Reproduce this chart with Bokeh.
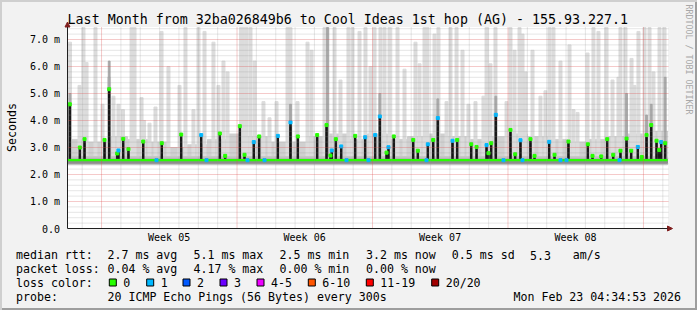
import math
from bokeh.plotting import figure
from bokeh.models import Arrow, NormalHead, Range1d
from bokeh.core.properties import value
from bokeh.embed import file_html
from bokeh.resources import INLINE

# ---------------- data (x = hours since start of the month window, y = ms) -------------
spike_h = [2.9, 15.3, 21.1, 45.9, 51.7, 61.6, 63.2, 69.1, 75.6, 93.9, 116.9, 141.0, 165.8,
           188.9, 195.5, 213.7, 219.5, 231.0, 237.7, 260.8, 276.5, 285.6, 309.6, 321.2, 326.1,
           327.7, 332.7, 339.4, 356.7, 369.1, 381.5, 387.3, 395.6, 398.0, 404.6, 428.7, 434.4,
           446.8, 453.5, 459.2, 477.4, 483.2, 500.6, 507.2, 519.6, 522.0, 525.4, 531.1, 549.3,
           555.1, 561.7, 574.1, 579.1, 597.3, 603.9, 621.2, 645.2, 651.0, 661.8, 669.2, 676.7,
           685.7, 693.2, 699.0, 707.2, 712.2, 718.0, 723.8, 730.4, 733.7, 736.2, 741.1]
spike_ms = [4.60, 3.00, 3.31, 3.28, 5.16, 2.78, 2.89, 3.32, 2.94, 3.22, 3.16, 3.48, 3.46,
            3.52, 2.69, 3.79, 2.73, 3.20, 3.41, 3.43, 3.93, 3.41, 3.46, 3.83, 2.70,
            2.89, 3.31, 3.04, 3.43, 3.38, 3.46, 4.15, 2.81, 3.01, 3.41, 3.28, 2.88,
            3.12, 3.28, 4.09, 3.25, 3.28, 3.12, 3.02, 3.09, 2.79, 3.16, 4.21, 3.65,
            2.75, 3.27, 3.31, 2.69, 3.21, 2.73, 3.22, 3.12, 2.69, 2.67, 3.31, 2.73,
            2.88, 3.33, 2.88, 3.02, 2.65, 3.46, 3.83, 3.25, 2.91, 3.20, 3.16]
spike_loss = [0, 0, 0, 0, 0, 0, 1, 0, 0, 0, 0, 0, 1,
              0, 0, 0, 0, 1, 0, 1, 1, 0, 0, 0, 0,
              1, 0, 1, 0, 1, 1, 1, 0, 1, 0, 0, 0,
              1, 0, 1, 1, 0, 0, 0, 1, 0, 0, 1, 0,
              0, 1, 0, 0, 1, 0, 0, 0, 0, 0, 0, 0,
              0, 0, 0, 1, 0, 0, 0, 0, 0, 1, 0]

smoke_h = [3.1, 14.9, 19.8, 23.6, 34.7, 43.4, 51.5, 57.0, 63.2, 68.8, 79.4, 83.1, 91.8, 94.9,
           101.7, 109.1, 116.6, 125.2, 138.9, 146.3, 156.2, 162.4, 169.9, 181.0, 187.2, 193.4,
           198.4, 215.1, 218.2, 222.0, 226.9, 231.9, 243.0, 250.5, 259.2, 272.8, 276.5, 285.2,
           297.6, 302.6, 318.7, 322.4, 331.1, 338.5, 348.4, 353.4, 362.1, 369.5, 375.7, 380.7,
           388.1, 393.1, 399.3, 409.2, 417.9, 431.5, 436.5, 442.7, 446.4, 455.1, 460.0, 470.0,
           474.9, 482.4, 489.8, 497.2, 505.9, 515.8, 519.6, 524.5, 530.7, 544.4, 549.3, 554.3,
           560.5, 564.2, 567.9, 576.6, 586.5, 592.7, 597.7, 602.6, 611.3, 622.5, 627.4, 632.4,
           644.8, 652.2, 658.4, 668.4, 675.8, 683.2, 685.7, 691.9, 699.4, 703.1, 708.0, 715.5,
           721.7, 726.6, 734.1, 740.3]
smoke_top = [6.9, 5.3, 7.5, 6.15, 7.5, 4.6, 5.6, 4.9, 4.6, 4.4, 7.5, 7.5, 4.85, 4.0,
             3.9, 4.5, 7.3, 6.0, 5.3, 7.5, 4.4, 7.5, 7.3, 6.9, 5.3, 6.2,
             5.8, 7.5, 7.5, 7.5, 7.5, 6.2, 4.7, 4.1, 4.7, 7.5, 7.5, 4.7,
             6.9, 6.6, 7.5, 7.5, 7.5, 5.5, 7.5, 7.5, 7.3, 7.5, 6.0, 7.5,
             7.5, 7.5, 7.5, 7.5, 5.9, 6.9, 6.1, 7.5, 7.5, 7.2, 7.5, 4.7,
             7.5, 7.5, 6.6, 4.6, 4.7, 4.9, 7.5, 6.1, 7.5, 4.7, 7.5, 6.6,
             7.5, 7.2, 5.8, 6.6, 4.9, 5.1, 7.5, 7.5, 6.2, 6.8, 4.4, 4.3,
             6.5, 7.5, 7.3, 7.5, 5.5, 5.6, 7.5, 7.5, 6.3, 5.3, 7.3, 7.5,
             7.5, 5.8, 7.5, 7.5]

dark_h = [3.1, 51.7, 276.5, 322.4, 387.3, 459.2, 531.1, 693.2, 718.0, 723.8, 741.1]
dark_top = [5.0, 6.2, 4.6, 7.5, 5.0, 4.8, 4.9, 5.0, 4.2, 4.6, 5.6]

band_h = [12.4, 37.2, 62.0, 86.8, 111.6, 136.4, 161.2, 186.0, 210.8, 235.6, 260.4, 285.2,
          310.0, 334.8, 359.6, 384.4, 409.2, 434.0, 458.8, 483.6, 508.4, 533.2, 558.0, 582.8,
          607.6, 632.4, 657.2, 682.0, 706.8, 731.6]
band_top = [3.3, 3.2, 3.4, 3.3, 3.2, 3.0, 3.1, 3.3, 3.5, 3.4, 3.2, 3.2, 3.4, 3.5, 3.3, 3.5,
            3.3, 3.4, 3.5, 3.4, 3.3, 3.4, 3.5, 3.4, 3.3, 3.2, 3.3, 3.4, 3.5, 3.6]

base_loss_h = [110.4, 172.4, 223.2, 244.3, 346.0, 373.2, 445.2, 540.6, 564.2, 611.3, 618.8, 684.5]
median_base = 2.53
smoke_floor = 2.45

# ticks / labels
y_major = [0, 1, 2, 3, 4, 5, 6, 7]
y_labels = ["0.0", "1.0 m", "2.0 m", "3.0 m", "4.0 m", "5.0 m", "6.0 m", "7.0 m"]
y_minor = [round(i * 0.2, 1) for i in range(1, 38) if i % 5 != 0]
week_lines_h = [42.2, 210.2, 378.2, 546.2, 714.2]
day_lines_h = [round(18.2 + 24 * k, 1) for k in range(31) if (k - 1) % 7 != 0]
week_label_h = [126, 294, 462, 630]
week_labels = ["Week 05", "Week 06", "Week 07", "Week 08"]

title = "Last Month from 32ba026849b6 to Cool Ideas 1st hop (AG) - 155.93.227.1"
rtt_stats = ["2.7 ms avg", "5.1 ms max", "2.5 ms min", "3.2 ms now", "0.5 ms sd"]
loss_stats = ["0.04 % avg", "4.17 % max", "0.00 % min", "0.00 % now"]
am_value, am_unit = "5.3", "am/s"
loss_labels = ["0", "1", "2", "3", "4-5", "6-10", "11-19", "20/20"]
loss_colors = ["#26ff00", "#00b8ff", "#0059ff", "#6a00ff", "#ee00ff", "#ff5500", "#ff0000", "#a10000"]
probe_text = "20 ICMP Echo Pings (56 Bytes) every 300s"
stamp = "Mon Feb 23 04:34:53 2026"
mark = "RRDTOOL / TOBI OETIKER"

# ---------------- geometry of the graph inside the image -------------
W, H = 697, 310
FX, FY = 67, 228          # pixel position of the graph origin
HPX = 1.24                # hours per pixel column
MSPX = 1 / 27.0           # ms per pixel row
XMAX = 744                # hours shown
YTOP = 201 * MSPX         # top of the canvas in ms


def px2x(X):
    return (X - FX) * HPX


def px2y(Y):
    return (FY - Y) * MSPX


FONT = "DejaVu Sans Mono"
p = figure(width=W, height=H, output_backend="svg", toolbar_location=None,
           x_range=Range1d(px2x(0), px2x(W)), y_range=Range1d(px2y(H), px2y(0)),
           x_axis_type=None, y_axis_type=None,
           min_border_left=0, min_border_right=0, min_border_top=0, min_border_bottom=0)
p.border_fill_color = None
p.background_fill_color = None
p.outline_line_color = None
p.grid.visible = False
p.styles = {"background-color": "#f2f2f2",
            "box-shadow": "inset 2px 2px 0 #cfcfcf, inset -2px -2px 0 #9e9e9e"}

# white canvas
p.quad(left=[0], right=[XMAX], bottom=[0], top=[YTOP], color="#ffffff")

# smoke
clip = lambda vals: [min(v, YTOP) for v in vals]
p.vbar(x=band_h, width=24.8, bottom=smoke_floor, top=band_top, color="#d0d0d0")
p.vbar(x=smoke_h, width=3.0 * HPX, bottom=smoke_floor, top=clip(smoke_top), color="#dcdcdc")
p.vbar(x=dark_h, width=1.8 * HPX, bottom=smoke_floor, top=clip(dark_top), color="#a8a8a8")
p.vbar(x=[XMAX / 2], width=XMAX, bottom=2.36, top=2.66, color="#c4c4c4")
p.vbar(x=[XMAX / 2], width=XMAX, bottom=2.42, top=2.56, color="#8e8e8e")

# median
p.vbar(x=spike_h, width=1.5 * HPX, bottom=median_base, top=spike_ms, color="#151515")
p.segment(x0=[0], y0=[median_base], x1=[XMAX], y1=[median_base], line_color=loss_colors[0], line_width=2.2)
p.rect(x=base_loss_h, y=[median_base] * len(base_loss_h), width=3, height=3,
       width_units="screen", height_units="screen", color=loss_colors[1])
p.rect(x=spike_h, y=spike_ms, width=3, height=3, width_units="screen", height_units="screen",
       color=[loss_colors[l] for l in spike_loss])

# grid (dotted, drawn over the smoke like rrdtool)
gmin = dict(line_color="#8f8f8f", line_alpha=0.45, line_dash="1 1", line_width=1)
gmaj = dict(line_color="#de4f4f", line_alpha=0.6, line_dash="1 1", line_width=1)
p.segment(x0=[0] * len(y_minor), x1=[XMAX + 1] * len(y_minor), y0=y_minor, y1=y_minor, **gmin)
p.segment(x0=day_lines_h, x1=day_lines_h, y0=[0] * len(day_lines_h), y1=[YTOP] * len(day_lines_h), **gmin)
p.segment(x0=[0] * 7, x1=[XMAX + 1] * 7, y0=y_major[1:], y1=y_major[1:], **gmaj)
p.segment(x0=week_lines_h, x1=week_lines_h, y0=[0] * len(week_lines_h), y1=[YTOP] * len(week_lines_h), **gmaj)

# axes with arrows
head = dict(size=5, fill_color="#801f1f", line_color="#801f1f")
p.add_layout(Arrow(end=NormalHead(**head), x_start=0, y_start=0, x_end=px2x(672), y_end=0,
                   line_color="#1f1f1f", line_width=1))
p.add_layout(Arrow(end=NormalHead(**head), x_start=0, y_start=0, x_end=0, y_end=px2y(21.5),
                   line_color="#1f1f1f", line_width=1))

# axis tick labels (placed at tick values through the scales)
tick_font = dict(text_font=value(FONT), text_font_size="10px", text_baseline="middle", text_color="#000000")
p.text(x=[0] * len(y_major), y=y_major, text=y_labels, x_offset=-7.5, text_align="right", **tick_font)
p.text(x=week_label_h, y=[0] * len(week_label_h), text=week_labels, y_offset=8.5, text_align="center", **tick_font)


def txt(X, Y, text, size="11.6px", align="left", color="#000000", angle=0.0):
    p.text(x=[px2x(X)], y=[px2y(Y)], text=[text], angle=angle, text_font=value(FONT),
           text_font_size=size, text_align=align, text_baseline="middle", text_color=color)


txt(11, 127, "Seconds", align="center", angle=math.pi / 2)
txt(347.3, 19.3, title, size="13.3px", align="center")
txt(688, 4, mark, size="8.3px", color="#a8a8a8", angle=-math.pi / 2)

col_x = [107, 193, 279, 365.5, 451.3]
txt(15.5, 254.5, "median rtt:")
for cx, t in zip(col_x, rtt_stats):
    txt(cx, 254.5, t)
txt(529.5, 254.5, am_value)
txt(572.2, 254.5, am_unit)

txt(15.5, 268, "packet loss:")
for cx, t in zip(col_x, loss_stats):
    txt(cx, 268, t)

txt(15.5, 282, "loss color:")
box_x = [108.3, 145.7, 182, 219, 256, 307.3, 365.3, 430.7]
p.rect(x=[px2x(b + 4) for b in box_x], y=[px2y(282)] * len(box_x), width=7, height=7,
       width_units="screen", height_units="screen", fill_color=loss_colors,
       line_color="#000000", line_width=1)
for bx, t in zip(box_x, loss_labels):
    txt(bx + 14.5, 282, t)

txt(15.5, 296, "probe:")
txt(107, 296, probe_text)
txt(513, 296, stamp)

open("out.html", "w").write(file_html(p, INLINE))
